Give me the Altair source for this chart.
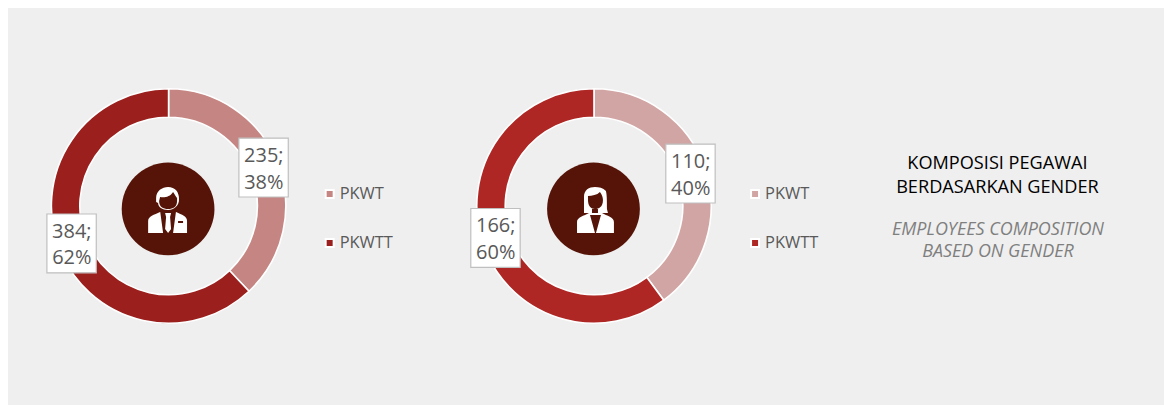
import altair as alt
import pandas as pd

W, H = 1159, 397
BG = "#efefef"
FONT = "Open Sans"
CENTER_FILL = "#561408"
TXT = "#595959"

categories = ["PKWT", "PKWTT"]
male_values = [235, 384]
female_values = [110, 166]
male_pct = ["38%", "62%"]
female_pct = ["40%", "60%"]
male_colors = ["#c58683", "#9b201d"]
female_colors = ["#d1a5a3", "#ae2724"]
title_id = ["KOMPOSISI PEGAWAI", "BERDASARKAN GENDER"]
title_en = ["EMPLOYEES COMPOSITION", "BASED ON GENDER"]

# icon outlines, drawn in pixels around the icon centre (size=4 => scale 1)
MALE_WHITE = ("M-12 -12 C-12 -19 -6 -23 0 -23 C7 -23 11 -18 11 -11 C11 -4 6 0 0 0 C-6 0 -10 -3 -10 -7 L-12 -8 Z "
              "M-20 23 L-20 11 C-20 6 -14 5 -8 2 L8 2 C14 5 19 6 19 11 L19 23 Z")
MALE_DARK = ("M-8 -13 C-4 -12 2 -13 5 -18 C7 -15 8 -13 9 -12 L9 -9 C9 -3 5 -1 0 -1 C-5 -1 -9 -3 -9 -9 Z "
             "M-8 1 L8 1 L5 23 L-5 23 Z M10 11 L15 11 L15 13 L10 13 Z")
MALE_TIE = "M-3 3 L3 3 L2 7 L3 19 L0 23 L-3 19 L-2 7 Z"
FEMALE_WHITE = ("M-10 -13 C-10 -20 -5 -23 1 -23 C5 -23 9 -22 12 -19 C13 -15 13 -8 13 -1 L14 3 L-10 3 L-10 -1 Z "
                "M-17 23 L-17 12 C-17 7 -10 6 -5 3 L8 3 C13 6 20 7 20 12 L20 23 Z")
FEMALE_DARK = ("M-6 -14 C-2 -14 3 -15 6 -18 C8 -15 9 -13 9 -10 C9 -3 5 -1 1 -1 C-3 -1 -6 -4 -6 -10 Z "
               "M-2 -1 L4 -1 L4 3 L-2 3 Z M-4 5 L7 5 L2 23 L1 23 Z")


def donut(values, colors, pct, cx, cy, hub_x, hub_y, box_left, box_top, legend_x):
    frame = pd.DataFrame({"type": categories, "value": values})
    arcs = alt.Chart(frame).mark_arc(
        radius=117.5, radius2=89, stroke="white", strokeWidth=1.6
    ).encode(
        theta=alt.Theta("value:Q", stack=True, scale=alt.Scale(domain=[0, sum(values)])),
        color=alt.Color("type:N", scale=alt.Scale(domain=categories, range=colors), legend=None),
        order=alt.Order("type:N"),
        x=alt.value(cx),
        y=alt.value(cy),
    )
    hub = alt.Chart(pd.DataFrame({"k": [0]})).mark_arc(radius=46.5, color=CENTER_FILL).encode(
        x=alt.value(hub_x), y=alt.value(hub_y), theta=alt.value(0), theta2=alt.value(6.2832)
    )
    layers = [arcs, hub]
    for i, (left, top) in enumerate(zip(box_left, box_top)):
        layers.append(
            alt.Chart(pd.DataFrame({"k": [0]})).mark_rect(
                fill="white", stroke="#bfbfbf", strokeWidth=1.2
            ).encode(
                x=alt.value(left), x2=alt.value(left + 49.5),
                y=alt.value(top), y2=alt.value(top + 59),
            )
        )
        for j, line in enumerate([f"{values[i]};", pct[i]]):
            layers.append(
                alt.Chart(pd.DataFrame({"t": [line]})).mark_text(
                    font=FONT, fontSize=20, color=TXT, align="center", baseline="middle"
                ).encode(
                    text="t:N",
                    x=alt.value(left + 25),
                    y=alt.value(top + 18 + j * 26.5),
                )
            )
    for i, name in enumerate(categories):
        ly = 186 + i * 49
        layers.append(
            alt.Chart(pd.DataFrame({"type": [name]})).mark_square(
                size=64, opacity=1, stroke="white", strokeWidth=2
            ).encode(
                x=alt.value(legend_x), y=alt.value(ly),
                color=alt.Color("type:N", scale=alt.Scale(domain=categories, range=colors), legend=None),
            )
        )
        layers.append(
            alt.Chart(pd.DataFrame({"t": [name]})).mark_text(
                font=FONT, fontSize=16.5, color=TXT, align="left", baseline="middle"
            ).encode(text="t:N", x=alt.value(legend_x + 10), y=alt.value(ly))
        )
    return alt.layer(*layers).resolve_scale(theta="independent", color="independent")


def icon(path, fill, cx, cy):
    return alt.Chart(pd.DataFrame({"k": [0]})).mark_point(
        shape=path, size=4, filled=True, fill=fill, opacity=1, strokeWidth=0
    ).encode(x=alt.value(cx), y=alt.value(cy))


def lines(rows, x, y0, step, **style):
    return [
        alt.Chart(pd.DataFrame({"t": [row]})).mark_text(
            font=FONT, align="center", baseline="middle", **style
        ).encode(text="t:N", x=alt.value(x), y=alt.value(y0 + k * step))
        for k, row in enumerate(rows)
    ]


male = donut(male_values, male_colors, male_pct, 161, 198, 160.5, 201, [231.5, 39], [130, 206], 322.5)
female = donut(female_values, female_colors, female_pct, 587.5, 198, 587, 201, [659.5, 464], [136, 200.5], 749)

chart = alt.layer(
    male,
    icon(MALE_WHITE, "white", 160.5, 202),
    icon(MALE_DARK, CENTER_FILL, 160.5, 202),
    icon(MALE_TIE, "white", 160.5, 202),
    female,
    icon(FEMALE_WHITE, "white", 587.5, 202),
    icon(FEMALE_DARK, CENTER_FILL, 587.5, 202),
    *lines(title_id, 992, 156, 24, fontSize=18.2, color="#000000"),
    *lines(title_en, 992.5, 222, 22, fontSize=18, fontStyle="italic", color="#7f7f7f"),
).resolve_scale(theta="independent", color="independent").properties(
    width=W, height=H, padding=0, background=BG, autosize=alt.AutoSizeParams(type="none")
).configure_view(stroke=None)

chart.save("out.html", embed_options={"renderer": "svg", "actions": False})
